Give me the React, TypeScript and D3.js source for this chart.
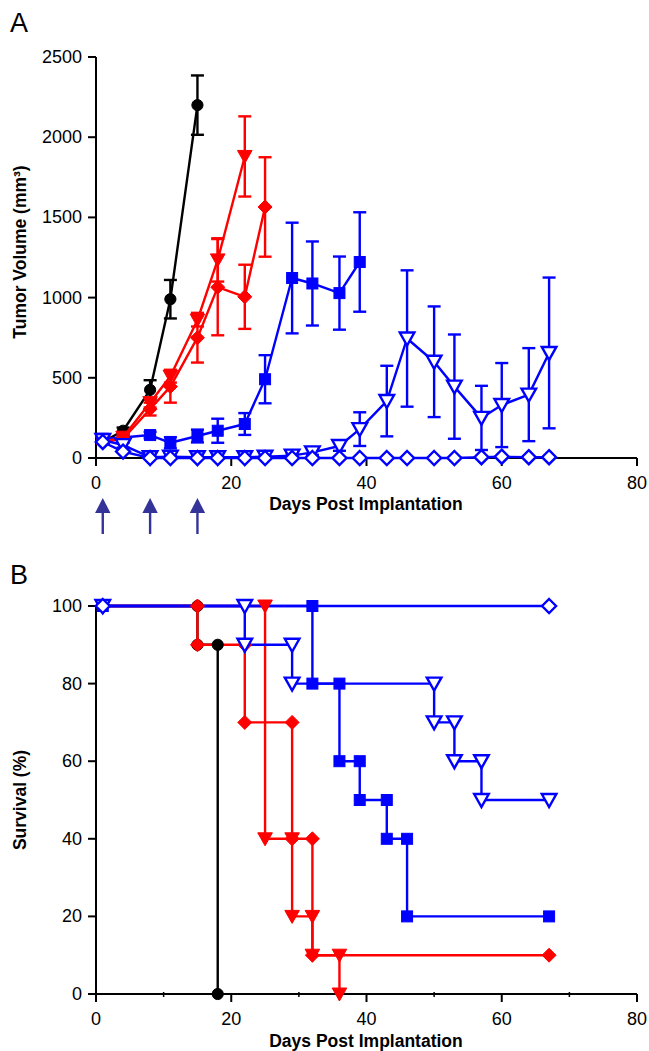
import React from "react";
import * as d3 from "d3";

// ---------- Panel A: tumor volume (mean ± SEM) ----------
const blackDays = [1, 4, 8, 11, 15];
const blackMean = [100, 170, 425, 990, 2200];
const blackErr = [10, 20, 60, 120, 185];

const redTriDays = [1, 4, 8, 11, 15, 18, 22];
const redTriMean = [100, 130, 345, 510, 860, 1235, 1880];
const redTriErr = [10, 20, 30, 40, 40, 135, 250];

const redDiaDays = [1, 4, 8, 11, 15, 18, 22, 25];
const redDiaMean = [100, 120, 305, 445, 750, 1065, 1005, 1565];
const redDiaErr = [10, 15, 40, 100, 155, 300, 200, 310];

const blueSqDays = [1, 4, 8, 11, 15, 18, 22, 25, 29, 32, 36, 39];
const blueSqMean = [120, 128, 143, 95, 137, 170, 212, 491, 1122, 1088, 1028, 1222];
const blueSqErr = [10, 10, 20, 35, 40, 75, 68, 150, 345, 262, 228, 310];

const blueTriDays = [1, 4, 8, 11, 15, 18, 22, 25, 29, 32, 36, 39, 43, 46, 50, 53, 57, 60, 64, 67];
const blueTriMean = [112, 80, 5, 8, 5, 5, 5, 8, 15, 35, 75, 180, 355, 745, 600, 445, 250, 330, 395, 655];
const blueTriErr = [10, 15, 3, 3, 3, 3, 3, 3, 8, 15, 30, 105, 220, 425, 345, 325, 200, 262, 290, 470];

const blueDiaDays = [1, 4, 8, 11, 15, 18, 22, 25, 29, 32, 36, 39, 43, 46, 50, 53, 57, 60, 64, 67];
const blueDiaMean = [100, 40, 0, 0, 0, 0, 0, 0, 0, 0, 0, 0, 0, 0, 0, 0, 5, 8, 5, 5];

const treatmentDays = [1, 8, 15];

const xTicks = [0, 20, 40, 60, 80];
const xMinorTicksB = [10, 30, 50, 70];
const yTicksA = [0, 500, 1000, 1500, 2000, 2500];
const yTicksB = [0, 20, 40, 60, 80, 100];

// ---------- Panel B: Kaplan–Meier survival (step corners) ----------
const kmBlackDays = [1, 15, 15, 18, 18];
const kmBlackSurv = [100, 100, 90, 90, 0];
const kmRedDiaDays = [1, 15, 15, 22, 22, 29, 29, 32, 32, 67];
const kmRedDiaSurv = [100, 100, 90, 90, 70, 70, 40, 40, 10, 10];
const kmRedTriDays = [1, 25, 25, 29, 29, 32, 32, 36, 36];
const kmRedTriSurv = [100, 100, 40, 40, 20, 20, 10, 10, 0];
const kmBlueSqDays = [1, 32, 32, 36, 36, 39, 39, 43, 43, 46, 46, 67];
const kmBlueSqSurv = [100, 100, 80, 80, 60, 60, 50, 50, 40, 40, 20, 20];
const kmBlueTriDays = [1, 22, 22, 29, 29, 50, 50, 53, 53, 57, 57, 67];
const kmBlueTriSurv = [100, 100, 90, 90, 80, 80, 70, 70, 60, 60, 50, 50];
const kmBlueDiaDays = [1, 67];
const kmBlueDiaSurv = [100, 100];

const FONT = "'Liberation Sans', Arial, Helvetica, sans-serif";
const RED = "#ff0000";
const BLUE = "#0000ff";
const BLACK = "#000000";
const ARROW = "#33339a";

type Shape = "circle" | "square" | "tri" | "diamond";

function Marker({ shape, x, y, color, open }: { shape: Shape; x: number; y: number; color: string; open?: boolean }) {
  const fill = open ? "#fff" : color;
  const stroke = color;
  const sw = open ? 2.4 : 1;
  if (shape === "circle") return <circle cx={x} cy={y} r={5.6} fill={fill} stroke={stroke} strokeWidth={sw} />;
  if (shape === "square") return <rect x={x - 5.5} y={y - 5.5} width={11} height={11} fill={fill} stroke={stroke} strokeWidth={sw} />;
  if (shape === "tri") {
    const p = `M${x - 7.3},${y - 6} L${x + 7.3},${y - 6} L${x},${y + 7} Z`;
    return <path d={p} fill={fill} stroke={stroke} strokeWidth={sw} strokeLinejoin="miter" />;
  }
  const p = `M${x},${y - 7} L${x + 7},${y} L${x},${y + 7} L${x - 7},${y} Z`;
  return <path d={p} fill={fill} stroke={stroke} strokeWidth={sw} />;
}

const xA = d3.scaleLinear().domain([0, 80]).range([96, 637]);
const yA = d3.scaleLinear().domain([0, 2500]).range([458, 57]);
const xB = d3.scaleLinear().domain([0, 80]).range([96, 637]);
const yB = d3.scaleLinear().domain([0, 100]).range([994, 606]);

function SeriesA({ days, mean, err, shape, color, open }: { days: number[]; mean: number[]; err?: number[]; shape: Shape; color: string; open?: boolean }) {
  const pts = days.map((d, i) => [xA(d), yA(mean[i])] as [number, number]);
  const line = d3.line()(pts) || "";
  return (
    <g>
      {err &&
        days.map((d, i) => {
          const x = xA(d);
          const y1 = yA(mean[i] + err[i]);
          const y2 = yA(Math.max(0, mean[i] - err[i]));
          return (
            <g key={"e" + i} stroke={color} strokeWidth={2.4} fill="none">
              <line x1={x} x2={x} y1={y1} y2={y2} />
              <line x1={x - 6.5} x2={x + 6.5} y1={y1} y2={y1} />
              <line x1={x - 6.5} x2={x + 6.5} y1={y2} y2={y2} />
            </g>
          );
        })}
      <path d={line} fill="none" stroke={color} strokeWidth={2.4} strokeLinejoin="round" />
      {pts.map((p, i) => (
        <Marker key={i} shape={shape} x={p[0]} y={p[1]} color={color} open={open} />
      ))}
    </g>
  );
}

// line order (bottom → top): black, red, blue
const seriesB = [
  { days: kmBlackDays, surv: kmBlackSurv, shape: "circle" as Shape, color: BLACK, open: false },
  { days: kmRedTriDays, surv: kmRedTriSurv, shape: "tri" as Shape, color: RED, open: false },
  { days: kmRedDiaDays, surv: kmRedDiaSurv, shape: "diamond" as Shape, color: RED, open: false },
  { days: kmBlueSqDays, surv: kmBlueSqSurv, shape: "square" as Shape, color: BLUE, open: false },
  { days: kmBlueTriDays, surv: kmBlueTriSurv, shape: "tri" as Shape, color: BLUE, open: true },
  { days: kmBlueDiaDays, surv: kmBlueDiaSurv, shape: "diamond" as Shape, color: BLUE, open: true },
];

export default function App() {
  return (
    <svg width={649} height={1051} style={{ position: "absolute", left: 0, top: 0, background: "#fff" }} fontFamily={FONT}>
      <rect x={0} y={0} width={649} height={1051} fill="#fff" />
      {/* ===== Panel A ===== */}
      <text x={10} y={32} fontSize={27}>A</text>
      <g stroke="#000" strokeWidth={2} fill="none">
        <line x1={xA(0)} x2={xA(0)} y1={yA(2500)} y2={yA(0)} />
        <line x1={88} x2={xA(80)} y1={yA(0)} y2={yA(0)} />
        {yTicksA.map((t) => (
          <line key={t} x1={88} x2={xA(0)} y1={yA(t)} y2={yA(t)} />
        ))}
        {xTicks.map((t) => (
          <line key={t} x1={xA(t)} x2={xA(t)} y1={yA(0)} y2={yA(0) + 8} />
        ))}
      </g>
      {yTicksA.map((t) => (
        <text key={t} x={82} y={yA(t) + 6} fontSize={18} textAnchor="end">{t}</text>
      ))}
      {xTicks.map((t) => (
        <text key={t} x={xA(t)} y={489} fontSize={18} textAnchor="middle">{t}</text>
      ))}
      <text x={366} y={510} fontSize={17.5} fontWeight="bold" textAnchor="middle">Days Post Implantation</text>
      <text transform={`translate(26,${252}) rotate(-90)`} fontSize={17.5} fontWeight="bold" textAnchor="middle">Tumor Volume (mm³)</text>

      <SeriesA days={blackDays} mean={blackMean} err={blackErr} shape="circle" color={BLACK} />
      <SeriesA days={blueSqDays} mean={blueSqMean} err={blueSqErr} shape="square" color={BLUE} />
      <SeriesA days={redDiaDays} mean={redDiaMean} err={redDiaErr} shape="diamond" color={RED} />
      <SeriesA days={redTriDays} mean={redTriMean} err={redTriErr} shape="tri" color={RED} />
      <SeriesA days={blueTriDays} mean={blueTriMean} err={blueTriErr} shape="tri" color={BLUE} open />
      <SeriesA days={blueDiaDays} mean={blueDiaMean} shape="diamond" color={BLUE} open />

      {treatmentDays.map((d) => {
        const x = xA(d);
        return (
          <g key={d} fill={ARROW} stroke="none">
            <path d={`M${x},498 L${x + 7.7},513 L${x - 7.7},513 Z`} />
            <rect x={x - 1.2} y={510} width={2.4} height={24} />
          </g>
        );
      })}

      {/* ===== Panel B ===== */}
      <text x={10} y={584} fontSize={27}>B</text>
      <g stroke="#000" strokeWidth={2} fill="none">
        <line x1={xB(0)} x2={xB(0)} y1={yB(100)} y2={yB(0)} />
        <line x1={88} x2={xB(80)} y1={yB(0)} y2={yB(0)} />
        {yTicksB.map((t) => (
          <line key={t} x1={88} x2={xB(0)} y1={yB(t)} y2={yB(t)} />
        ))}
        {xTicks.map((t) => (
          <line key={t} x1={xB(t)} x2={xB(t)} y1={yB(0)} y2={yB(0) + 8} />
        ))}
        {xMinorTicksB.map((t) => (
          <line key={t} x1={xB(t)} x2={xB(t)} y1={yB(0) - 2} y2={yB(0) + 3} strokeWidth={1.5} />
        ))}
      </g>
      {yTicksB.map((t) => (
        <text key={t} x={82} y={yB(t) + 6} fontSize={18} textAnchor="end">{t}</text>
      ))}
      {xTicks.map((t) => (
        <text key={t} x={xB(t)} y={1025} fontSize={18} textAnchor="middle">{t}</text>
      ))}
      <text x={366} y={1047} fontSize={17.5} fontWeight="bold" textAnchor="middle">Days Post Implantation</text>
      <text transform={`translate(26,${800}) rotate(-90)`} fontSize={17.5} fontWeight="bold" textAnchor="middle">Survival (%)</text>

      {seriesB.map((s, k) => {
        const pts = s.days.map((d, i) => [xB(d), yB(s.surv[i])] as [number, number]);
        return <path key={"l" + k} d={d3.line()(pts) || ""} fill="none" stroke={s.color} strokeWidth={2.4} />;
      })}
      {seriesB.map((s, k) => (
        <g key={"m" + k}>
          {s.days.map((d, i) => (
            <Marker key={i} shape={s.shape} x={xB(d)} y={yB(s.surv[i])} color={s.color} open={s.open} />
          ))}
        </g>
      ))}
    </svg>
  );
}
